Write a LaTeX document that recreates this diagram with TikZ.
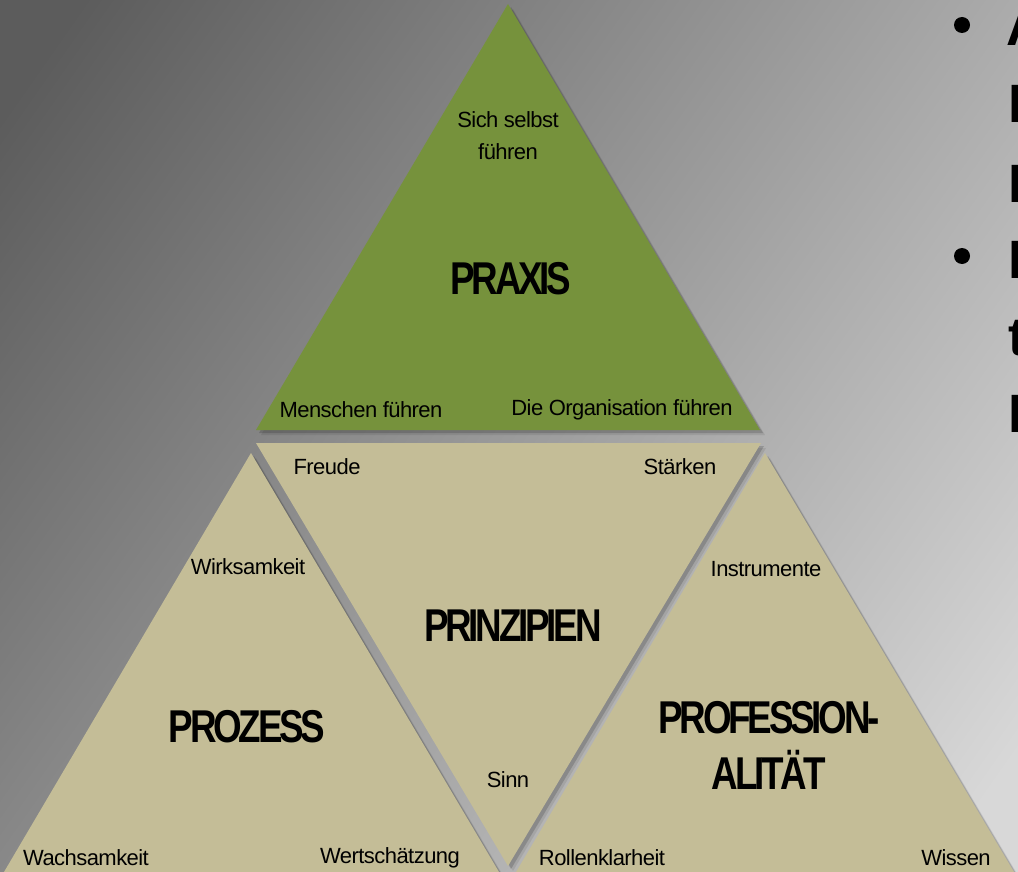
\documentclass[tikz,border=0pt]{standalone}
\usepackage{fontspec}
\setmainfont{Liberation Sans}
\newfontfamily\smf[LetterSpace=-2.5]{Liberation Sans}
\newfontfamily\bigf[LetterSpace=-7,FakeStretch=0.8]{Liberation Sans}
\newfontfamily\bulf{Liberation Sans}
\definecolor{bgdark}{HTML}{5C5C5C}
\definecolor{bglight}{HTML}{D8D8D8}
\definecolor{praxisgreen}{HTML}{76923C}
\definecolor{tan}{HTML}{C4BD97}
\tikzset{
  shadowfar/.style={fill=black,opacity=0.08},
  shadownear/.style={fill=black,opacity=0.16},
  greentri/.style={fill=praxisgreen},
  tantri/.style={fill=tan},
  small/.style={font=\smf\fontsize{22}{32}\selectfont,text=black,inner sep=0pt,align=center},
  big/.style={font=\bigf\bfseries\fontsize{46}{56}\selectfont,text=black,inner sep=0pt,align=center},
  frag/.style={font=\bulf\bfseries\fontsize{54}{60}\selectfont,text=black,inner sep=0pt,anchor=base west},
  bulletdot/.style={fill=black}
}
\begin{document}
\begin{tikzpicture}[x=1pt,y=-1pt]
\useasboundingbox (0,0) rectangle (1018,872);
\clip (0,0) rectangle (1018,872);
\shade[top color=bgdark,bottom color=bglight,shading angle=55] (-120,-120) rectangle (1138,992);

% shadows
\foreach \d/\s in {5/shadowfar,3/shadownear}{
  \fill[\s,shift={(\d,\d)}] (508,4) -- (760,430) -- (256,430) -- cycle;
  \fill[\s,shift={(\d,\d)}] (256,443) -- (761,443) -- (508,866) -- cycle;
  \fill[\s,shift={(\d,\d)}] (251,453) -- (499,872) -- (4,872) -- cycle;
  \fill[\s,shift={(\d,\d)}] (765,453) -- (1014,872) -- (516,872) -- cycle;
}
% triangles
\fill[greentri] (508,4) -- (760,430) -- (256,430) -- cycle;
\fill[tantri] (256,443) -- (761,443) -- (508,866) -- cycle;
\fill[tantri] (251,453) -- (499,872) -- (4,872) -- cycle;
\fill[tantri] (765,453) -- (1014,872) -- (516,872) -- cycle;

% top
\node[small] (selbst) at (508,136) {Sich selbst\\führen};
\node[big] (praxis) at (511,279) {PRAXIS};
\node[small] (menschen) at (361,410) {Menschen führen};
\node[small] (orga) at (622,410) {Die Organisation führen};
% middle
\node[small] (freude) at (327,467) {Freude};
\node[small] (staerken) at (680,467) {Stärken};
\node[big] (prinz) at (513,626) {PRINZIPIEN};
\node[small] (sinn) at (508,780) {Sinn};
% left
\node[small] (wirk) at (248,567) {Wirksamkeit};
\node[big] (prozess) at (247,727) {PROZESS};
\node[small] (wach) at (86,858) {Wachsamkeit};
\node[small] (wert) at (390,858) {Wertschätzung};
% right
\node[small] (instr) at (766,569) {Instrumente};
\node[big] (prof) at (769,745) {PROFESSION-\\ALITÄT};
\node[small] (rollen) at (602,858) {Rollenklarheit};
\node[small] (wissen) at (956,858) {Wissen};

% bullets cut at the right edge
\fill[bulletdot] (962,25) circle (8);
\fill[bulletdot] (962,256) circle (8);
\node[frag] (l1) at (1006,46) {A};
\node[frag] (l2) at (1008,123) {I};
\node[frag] (l3) at (1008,202) {I};
\node[frag] (l4) at (1008,278) {I};
\node[frag] (l5) at (1008,355) {t};
\node[frag] (l6) at (1008,432) {I};
\end{tikzpicture}
\end{document}
